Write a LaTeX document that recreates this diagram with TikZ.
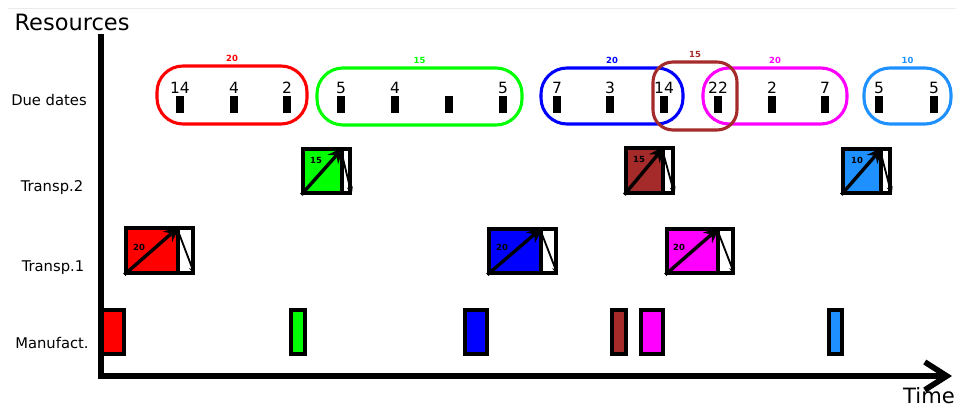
\documentclass[tikz,border=0pt]{standalone}
\usepackage{fontspec}
\setmainfont{DejaVu Sans}
\usetikzlibrary{arrows.meta,positioning,fit}
\definecolor{jgreen}{RGB}{0,255,0}
\definecolor{jbrown}{RGB}{165,42,42}
\definecolor{jsky}{RGB}{30,144,255}
\definecolor{jmag}{RGB}{255,0,255}

\begin{document}
\begin{tikzpicture}[
  x=0.025cm, y=-0.025cm, font=\fontsize{10.5}{12}\selectfont,
  axis/.style={line width=4pt, -{Straight Barb[length=5.5mm, width=7mm]}},
  grp/.style={line width=2.2pt, rounded corners=6.5mm, inner sep=0pt},
  glab/.style={font=\fontsize{6}{7}\selectfont\bfseries, inner sep=0.5pt, above=1.5pt of #1},
  bar/.style={fill=black, minimum width=1.8mm, minimum height=4.2mm, inner sep=0pt},
  num/.style={font=\fontsize{11}{13}\selectfont, inner sep=0pt},
  tbox/.style={draw, line width=2.4pt, inner sep=0pt},
  mbox/.style={draw, line width=2.2pt, inner sep=0pt},
  tlab/.style={font=\fontsize{6}{7}\selectfont\bfseries, inner sep=0pt},
  big/.style={line width=2.4pt, -{Stealth[length=4mm, width=3.4mm]}},
  small/.style={line width=1.3pt, -{Stealth[length=2mm, width=1.5mm]}},
]
\useasboundingbox (0,0) rectangle (956,407);
\draw[black!8, line width=0.6pt] (8,8) -- (956,8);

\node[font=\fontsize{16}{18}\selectfont, inner sep=0pt] (res) at (72,22) {Resources};
\node[font=\fontsize{15}{17}\selectfont, inner sep=0pt] (time) at (929,396) {Time};
\node (rdue) at (49,100) {Due dates};
\node (rt2) at (52,188) {Transp.2};
\node (rt1) at (53,268) {Transp.1};
\node (rman) at (52,343) {Manufact.};

\coordinate (ytop) at (101,34);
\coordinate (xend) at (952,376);
\draw[axis] (ytop) |- (xend);

\node[grp, draw=red, fit={(157,66) (307,124)}] (gred) {};
\node[grp, draw=jgreen, fit={(317,68) (522,125)}] (ggreen) {};
\node[grp, draw=blue, fit={(541,68) (683,124)}] (gblue) {};
\node[grp, draw=jmag, fit={(703,68) (847,124)}] (gmag) {};
\node[grp, draw=jbrown, rounded corners=5mm, fit={(653,62) (737,130)}] (gbrown) {};
\node[grp, draw=jsky, fit={(864,68) (951,124)}] (gsky) {};
\node[glab=gred, text=red] {20};
\node[glab=ggreen, text=jgreen] {15};
\node[glab=gblue, text=blue] {20};
\node[glab=gbrown, text=jbrown] {15};
\node[glab=gmag, text=jmag] {20};
\node[glab=gsky, text=jsky] {10};

\foreach \x/\v in {180/14, 234/4, 287/2, 341/5, 395/4, 449/{}, 503/5, 557/7,
                   610/3, 664/14, 718/22, 772/2, 825/7, 879/5, 934/5} {
  \node[bar] (b\x) at (\x,104.5) {};
  \node[num, above=1.5pt of b\x] {\v};
}

\foreach \n/\c/\xa/\xb/\xc/\ya/\yb/\lx/\ly/\lab in {
  ta/jgreen/303/342/350/149/193/316/160/15,
  tb/jbrown/626/663/673/148/193/639/159/15,
  tc/jsky/843/881/890/149/193/857/160/10,
  td/red/126/178/193/228/273/139/247/20,
  te/blue/489/541/556/229/273/502/247/20,
  tf/jmag/667/718/733/229/273/679/247/20} {
  \node[tbox, fill=\c, fit={(\xa,\ya) (\xb,\yb)}] (\n) {};
  \node[tbox, fill=white, fit={(\xb,\ya) (\xc,\yb)}] (\n-w) {};
  \draw[big] (\n.south west) -- (\n.north east);
  \draw[small] (\n-w.north west) -- (\n-w.south east);
  \node[tlab] at (\lx,\ly) {\lab};
}

\foreach \n/\c/\xa/\xb in {mred/red/102/124, mgreen/jgreen/291/305,
  mblue/blue/465/487, mbrown/jbrown/612/626, mmag/jmag/641/663, msky/jsky/829/842} {
  \node[mbox, fill=\c, fit={(\xa,310) (\xb,354)}] (\n) {};
}
\end{tikzpicture}
\end{document}
